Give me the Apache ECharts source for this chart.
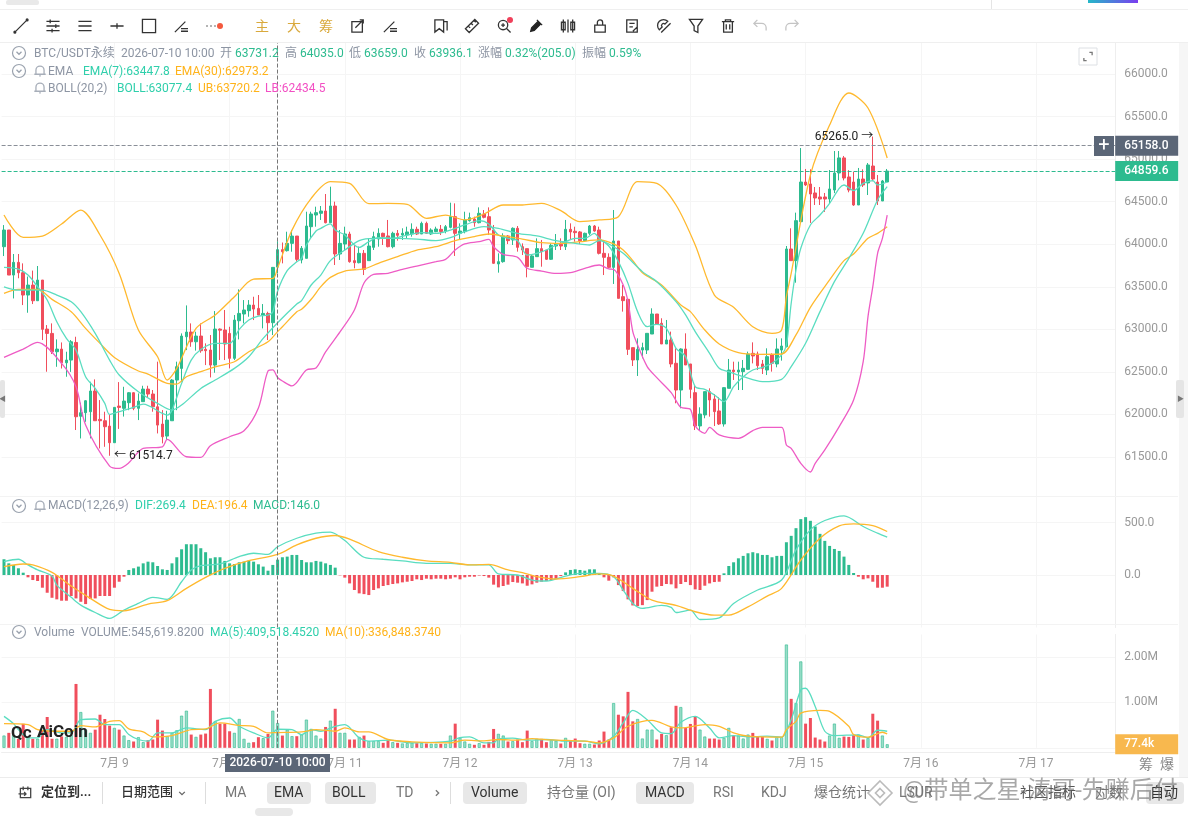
<!DOCTYPE html>
<html><head><meta charset="utf-8">
<script src="https://cdn.jsdelivr.net/npm/echarts@6/dist/echarts.min.js"></script>
<style>html,body{margin:0;padding:0;background:#fff}#c{width:1188px;height:816px}</style></head>
<body><div id="c"></div>
<script>
const dayLabels=['7月 9','7月 10','7月 11','7月 12','7月 13','7月 14','7月 15','7月 16','7月 17'];
const dayIndex=[23,47,71,95,119,143,167,191,215];
const slotCount=232;
const opens=[63971,64167,63638,63787,63665,63403,63520,63336,63579,63003,62952,62737,62768,62607,62639,62846,61980,62020,62032,62275,61942,61926,61863,61668,62098,62072,62138,62255,62072,62150,62298,62240,62090,61887,61746,61926,62404,62541,62913,62968,62854,62921,62765,62757,62580,63003,62992,62952,62659,63101,63180,63219,63285,63246,63168,63187,63078,63731.2,63936,63924,64010,64096,63815,63834,64206,64343,64363,64390,64253,64449,63885,64002,64120,63807,63783,63893,63807,63963,64061,64128,64097,63971,64128,64108,64108,64120,64175,64120,64245,64120,64148,64175,64155,64198,64324,64128,64148,64277,64296,64253,64355,64324,64167,63768,63795,64097,64050,64187,63971,63948,63729,63854,63948,63932,63823,63979,63999,63971,64175,64152,64144,64042,64128,64214,64167,63893,63846,63728,64038,63384,63353,62785,62640,62757,62757,62945,63180,63071,62828,62875,62601,62287,62769,62593,62256,61865,61994,62268,62182,62041,61888,62307,62522,62499,62503,62530,62718,62710,62593,62522,62699,62593,62757,62796,63944,63807,64265,64731,64708,64602,64555,64555,64531,64637,64837,65014,64790,64731,64461,64766,64720,64919,64731,64508,64731];
const closes=[64167,63638,63787,63665,63403,63520,63336,63579,63000,62952,62737,62768,62607,62639,62854,61973,62020,62161,62275,61926,61926,61856,61668,62083,62083,62157,62255,62072,62157,62298,62240,62090,61875,61738,61934,62404,62561,62921,62968,62854,62921,62749,62749,62580,63003,62990,62827,62659,63109,63187,63227,63285,63238,63168,63187,63078,63728,63936.1,63912,64010,64096,63822,63952,64214,64355,64371,64390,64253,64449,63885,64010,64120,63795,63783,63893,63705,63979,64089,64128,64089,63971,64128,64104,64128,64144,64175,64120,64245,64128,64167,64179,64148,64206,64324,64128,64155,64285,64312,64253,64363,64316,64167,63776,63795,64097,64042,64187,63963,63932,63736,63862,63948,63912,63823,63987,64002,63979,64175,64144,64136,64042,64128,64214,64155,63893,63846,63728,64038,63364,63337,62765,62640,62765,62785,62953,63180,63063,62828,62875,62593,62287,62769,62581,62295,61865,62005,62268,62170,62033,61888,62315,62522,62503,62522,62542,62710,62687,62573,62542,62679,62601,62769,62804,63944,63807,64277,64731,64696,64590,64543,64531,64531,64649,64837,65014,64778,64637,64461,64766,64696,64931,64766,64508,64743,64859.6];
const lows=[63861,63638,63363,63600,63285,63195,63297,63336,62874,62502,62710,62560,62540,62443,62500,61817,61718,61914,61718,61926,61601,61620,61514.7,61668,61830,61975,62050,62050,61934,62150,62200,62032,61777,61660,61700,61926,62050,62385,62756,62795,62750,62725,62580,62435,62490,62640,62639,62541,62639,62882,63070,63148,63109,63168,63011,62874,62933,63659,63775,63914,63912,63795,63775,63834,64069,64206,64285,64245,64253,63756,63815,63932,63783,63717,63775,63638,63807,63932,63971,63991,63963,63952,64042,64050,64069,64089,64108,64120,64120,64108,64140,64108,64128,64187,63862,64061,64128,64265,64206,64245,64304,64108,63768,63666,63783,64002,63991,63913,63873,63611,63729,63854,63736,63815,63815,63932,63932,63932,64050,64030,64002,64030,64108,64148,63880,63638,63717,63533,63364,63208,62699,62569,62452,62660,62710,62945,63063,62828,62828,62554,62131,62072,62581,62190,61817,61817,61955,61974,61864,61876,61857,62307,62405,62287,62287,62522,62600,62522,62475,62463,62503,62554,62632,62788,63807,63548,64265,64684,64250,64461,64461,64380,64484,64600,64750,64750,64610,64450,64461,64672,64578,64740,64461,64508,64731];
const highs=[64225,64167,63885,63885,63775,63620,63690,63744,63579,63050,63070,62882,62846,62737,62874,62913,62138,62168,62384,62412,62169,62032,61993,62083,62380,62325,62262,62262,62247,62337,62337,62287,62620,62051,62043,62415,62620,62952,63281,63070,62972,63070,62835,62933,63215,63011,63227,63030,63168,63470,63344,63344,63383,63403,63297,63207,63728,64035,64020,64147,64165,64096,63979,64382,64382,64441,64449,64590,64676,64500,64167,64206,64147,63991,63971,63932,64069,64147,64187,64136,64285,64147,64167,64187,64206,64245,64206,64265,64265,64187,64206,64226,64226,64488,64480,64245,64382,64371,64324,64433,64402,64433,64226,63893,64128,64108,64198,64214,64010,63948,63873,64069,64050,63932,64010,64120,64069,64285,64245,64206,64155,64136,64226,64226,64206,64050,63893,64402,64038,63521,63353,62785,62894,62843,62953,63247,63180,63130,63110,62973,62777,62777,62953,62593,62346,62084,62268,62307,62240,62201,62319,62652,62620,62620,62640,62738,62847,62738,62640,62777,62718,62894,62894,63979,64187,64371,65130,64884,64880,64672,64672,64602,64872,65095,65095,65037,64870,64850,64896,64880,64954,65265,64813,64755,64884];
const emaFastAt=[0,3,5,7,9,11,13,15,17,19,21,22,24,27,29,33,34,35,37,39,41,44,47,49,51,53,55,56,57,59,61,62,63,65,66,68,69,71,73,74,76,78,81,84,87,90,93,96,99,101,103,105,107,109,111,113,115,117,119,121,123,124,126,128,130,132,134,136,138,140,142,144,146,148,150,152,154,156,158,160,162,163,164,165,166,168,170,172,174,175,177,179,181,182,184];
const emaFast=[63728,63708,63638,63501,63344,63089,62893,62756,62443,62306,62130,62000,62032,62083,62122,62012,61993,62051,62365,62639,62764,62835,62835,63000,63109,63156,63168,63207,63447.8,63689,63794,63834,63991,64155,64187,64238,64167,64108,63991,63963,64030,64077,64069,64108,64136,64128,64167,64226,64277,64238,64108,64069,64042,63873,63893,63932,63991,64030,64069,64069,64128,64069,63979,63795,63540,63208,63031,63059,63012,62777,62679,62326,62295,62229,62150,62326,62444,62522,62554,62601,62699,62816,63306,63697,63952,64226,64343,64480,64657,64696,64629,64715,64747,64696,64731];
const emaSlowAt=[0,3,7,10,14,17,20,23,28,30,34,36,38,41,44,48,51,55,57,58,61,62,64,66,68,71,75,78,82,86,90,94,98,101,104,108,112,116,120,124,127,129,131,133,137,141,143,146,149,153,157,162,165,168,172,175,177,180,182,184];
const emaSlow=[63422,63469,63469,63352,63207,63011,62835,62670,62510,62474,62365,62357,62443,62502,62560,62619,62737,62854,62973.2,63030,63207,63235,63353,63501,63611,63685,63709,63776,63854,63932,63971,64042,64089,64120,64097,64061,64018,64010,64030,64050,64003,63932,63807,63666,63521,63286,63208,62992,62828,62726,62706,62710,62934,63259,63580,63807,63885,64069,64128,64206];
const bollMidAt=[0,3,8,11,14,16,19,22,24,28,32,35,37,41,44,48,51,54,57,61,62,64,66,68,71,74,77,82,86,90,93,96,100,103,107,111,115,119,122,124,126,129,133,136,140,142,144,147,149,151,154,158,162,164,167,170,173,176,179,182,184];
const bollMid=[63500,63461,63461,63403,63324,63207,62952,62639,62463,62267,62130,62051,62110,62306,62404,62541,62678,62893,63077.4,63297,63337,63521,63638,63807,63932,64042,64069,64069,64061,64042,64077,64148,64206,64187,64128,64097,64042,64010,63991,64042,64003,63893,63678,63560,63325,63169,62973,62718,62542,62503,62444,62385,62413,62562,62836,63208,63560,63834,64128,64520,64676];
const bollUpAt=[0,4,8,12,16,20,24,28,32,34,36,40,44,48,52,56,57,60,64,68,72,76,80,84,88,92,96,100,104,108,112,116,120,124,128,132,136,140,144,148,152,156,160,162,163,164,168,172,176,180,184];
const bollUp=[64343,64080,64096,64237,64401,64108,63657,62991,62678,62404,62541,63011,63168,63383,63591,63598,63720.2,64166,64539,64735,64715,64476,64480,64469,64304,64343,64285,64355,64461,64461,64480,64394,64265,64285,64324,64735,64715,64461,63991,63403,63259,63031,62953,62992,63384,63658,64813,65400,65777,65600,65013];
const bollLowAt=[0,4,7,12,15,17,22,24,26,29,33,34,38,41,43,47,50,53,55,56,57,58,60,63,65,67,70,73,75,77,80,83,86,90,92,94,96,99,101,102,104,107,109,112,115,118,121,124,126,127,129,130,131,132,134,136,139,141,143,144,146,147,149,153,156,158,162,163,164,166,168,169,171,174,177,179,180,181,182,183,184];
const bollLow=[62670,62768,62846,62600,62326,61875,61393,61366,61432,61601,61620,61707,61503,61495,61632,61738,61808,62076,62511,62523,62434.5,62393,62335,62523,62546,62734,62969,63227,63545,63646,63658,63705,63744,63795,63822,63932,64003,64030,64057,63971,63881,63846,63717,63685,63658,63666,63717,63756,63709,63705,63521,63325,62973,62816,62562,62432,62256,62084,62060,61865,61778,61849,61759,61720,61810,61849,61849,61641,61602,61426,61324,61426,61583,61857,62170,62620,63149,63501,63893,64069,64343];
const macdHist=[150,111,95,64,22,-22,-48,-57,-121,-169,-217,-232,-245,-245,-200,-223,-255,-277,-229,-223,-200,-200,-200,-121,-64,-16,48,64,80,111,127,121,86,54,48,111,169,245,293,293,293,255,217,159,169,169,134,111,105,121,127,137,127,102,80,41,96,146,169,175,191,191,143,121,121,134,127,111,96,70,-3,-25,-80,-143,-175,-182,-191,-143,-127,-105,-96,-86,-80,-70,-64,-57,-41,-48,-35,-41,-35,-35,-41,-35,-22,-41,-22,-16,-16,-5,-10,-25,-92,-118,-105,-92,-67,-73,-80,-102,-89,-73,-64,-57,-48,-38,-10,25,48,54,48,41,54,54,19,-22,-54,-22,-96,-153,-232,-290,-296,-287,-239,-159,-111,-105,-86,-89,-127,-86,-67,-96,-137,-143,-102,-80,-67,-64,16,86,121,159,182,207,217,207,191,191,169,182,182,312,373,446,532,551,516,462,392,325,277,248,229,175,96,19,-16,-41,-32,-64,-121,-121,-111];
const difAt=[0,3,5,7,10,11,14,16,19,22,25,28,31,34,37,39,41,45,49,52,55,57,61,65,68,71,75,79,83,88,93,97,101,103,107,110,113,117,120,124,127,129,131,133,137,139,140,143,145,149,152,157,162,165,168,171,175,179,182,184];
const dif=[127,150,96,48,-10,-96,-213,-287,-357,-414,-334,-271,-213,-232,-64,48,89,105,175,207,197,269.4,350,398,408,328,169,150,134,111,111,96,96,10,0,-48,-57,-10,16,16,-16,-143,-271,-318,-290,-309,-357,-334,-424,-408,-271,-143,-48,239,430,519,564,462,398,360];
const deaAt=[0,4,6,10,14,18,22,25,30,34,38,42,46,51,57,61,65,69,72,78,83,88,93,97,101,105,108,111,115,120,124,127,131,135,140,144,148,151,155,159,162,166,170,174,177,181,184];
const dea=[80,105,96,25,-105,-223,-328,-341,-277,-245,-127,-22,64,137,196.4,287,350,376,341,223,169,134,121,96,102,48,22,-16,-38,-16,10,-10,-127,-239,-290,-350,-382,-382,-303,-201,-127,143,350,468,487,471,414];
const volumes=[270,330,280,200,530,240,200,200,380,680,200,200,250,240,280,1409,788,400,330,400,730,635,489,438,401,270,168,139,234,124,168,183,621,380,256,329,387,708,818,292,241,292,314,1299,584,533,533,365,329,635,197,110,124,234,212,307,818,545.6,270,401,256,256,292,621,416,270,204,460,599,861,329,329,183,183,241,270,146,146,146,110,168,124,110,95,102,110,102,102,95,88,88,88,88,270,533,219,139,88,66,102,66,131,416,307,270,139,146,183,124,380,146,197,197,124,168,153,95,219,168,204,102,88,88,73,161,358,183,986,730,694,1234,584,635,204,401,401,183,307,277,453,927,898,438,526,694,401,248,204,204,183,219,438,270,270,204,292,329,256,248,197,161,234,234,2278,1080,986,1905,533,657,226,183,139,270,533,219,248,241,277,292,183,212,752,599,270,77.4];
const volFastAt=[0,2,3,5,7,9,12,14,16,19,21,24,26,28,30,32,35,38,42,44,47,49,52,55,57,60,62,64,66,69,71,74,76,80,85,93,95,97,100,102,103,106,109,113,117,121,124,127,129,131,134,137,139,141,144,147,149,152,155,159,162,164,166,167,169,171,173,178,180,182,184];
const volFast=[694,533,401,219,219,401,329,329,621,635,511,511,292,183,146,329,329,438,401,584,657,475,329,219,409.5,401,292,401,365,475,511,219,146,168,110,146,226,241,110,110,197,212,168,183,146,146,88,256,548,825,621,329,314,562,694,438,219,270,241,256,234,621,1278,1314,913,365,270,285,219,387,365];
const volSlowAt=[0,5,7,10,14,16,19,22,24,26,29,31,35,39,42,45,49,52,55,57,62,65,69,71,74,76,80,85,93,96,100,103,107,110,114,121,124,127,130,135,139,141,146,149,152,155,162,163,165,166,170,172,176,177,180,183,184];
const volSlow=[533,511,401,365,365,489,460,584,599,416,350,241,270,401,416,548,496,475,329,336.8,350,401,365,438,350,350,183,131,110,168,153,183,168,204,175,146,110,219,475,606,460,438,511,475,329,256,234,401,584,766,825,803,475,292,234,343,307];

const cats=[];for(let i=0;i<slotCount;i++){const k=dayIndex.indexOf(i);cats.push(k>=0?dayLabels[k]:'h'+i);}
const isDay=(i)=>dayIndex.includes(i);
const GREEN='#2DBB8F',RED='#F04E5C',TEAL='#5ADDC0',ORANGE='#FFB92E',PINK='#EE5CC5';
const FF='Roboto,"Noto Sans CJK SC",sans-serif';
const GL='#f5f5f5',NO='rgba(0,0,0,0)';
const pair=(a,b)=>a.map((x,i)=>[x,b[i]]);
const line=(name,at,vals,color,xi,yi)=>({name,type:'line',xAxisIndex:xi,yAxisIndex:yi,data:pair(at,vals),smooth:0.3,symbol:'none',lineStyle:{color,width:1.3},silent:true,z:4});
const vline={xAxis:cats[57],lineStyle:{color:'#777',type:'dashed',width:1},label:{show:false}};
const xAxisBase=(i,show)=>({type:'category',gridIndex:i,data:cats,boundaryGap:true,
  axisLine:{show:show,onZero:false,lineStyle:{color:'#eee'}},axisTick:{show:false},offset:show?4:0,
  axisLabel:{show:show,interval:(idx)=>isDay(idx),color:'#999',fontSize:12,fontFamily:FF,margin:6,hideOverlap:false},
  splitLine:{show:true,alignWithLabel:true,interval:(idx)=>isDay(idx),lineStyle:{color:GL,width:1}}});
const yLabel=(fn)=>({color:'#999',fontSize:12,fontFamily:FF,margin:9,padding:[2,0,0,0],formatter:fn});
const yAxisBase=(i,o)=>Object.assign({type:'value',gridIndex:i,position:'right',scale:false,
  axisLine:{show:true,lineStyle:{color:'#eee'}},axisTick:{show:false}},o);
const priceLabel=(t,bg)=>({show:true,position:'end',distance:0,formatter:t,backgroundColor:bg,color:'#fff',fontFamily:FF,fontSize:12,fontWeight:500,padding:[4,9,4,9],align:'left',verticalAlign:'middle',lineHeight:12,width:45});

/* graphics */
const g=[];
let shapeId=0;
const T=(text,x,y,fill,size,o={})=>g.push({type:'text',z:101,x,y,silent:true,style:{text,fill,font:(o.weight||'normal')+' '+(size||12)+'px '+FF,textVerticalAlign:'middle',textAlign:o.align||'left',opacity:o.opacity==null?1:o.opacity}});
const R=(x,y,w,h,fill,r,z)=>g.push({type:'rect',z:z||100,silent:true,shape:{x,y,width:w,height:h,r:r||0},style:{fill}});
const P=(d,cx,cy,w,h,stroke,fill,lw)=>{const name='ic'+(shapeId++);echarts.graphic.registerShape(name,echarts.graphic.extendPath(d,{}));
  const s=Math.max(w,h)/16;g.push({type:name,z:101,silent:true,x:cx-8*s,y:cy-8*s,scaleX:s,scaleY:s,style:{stroke:stroke||'#333',fill:fill||'none',lineWidth:(lw||1.3)/s}});};
const C=(cx,cy,r,stroke,fill)=>g.push({type:'circle',z:101,silent:true,shape:{cx,cy,r},style:{stroke:stroke||'none',fill:fill||'none',lineWidth:1.2}});
/* top bar */
R(0,0,1188,42,'#fff');
R(6,0,33,5,'#e9e9e9',2,101);
R(0,9,1188,1,'#efefef',0,101);R(0,42,1188,1,'#efefef',0,101);
g.push({type:'rect',z:101,silent:true,shape:{x:1088,y:0,width:50,height:3},style:{fill:new echarts.graphic.LinearGradient(0,0,1,0,[{offset:0,color:'#25b8c8'},{offset:1,color:'#7a3df0'}])}});
R(991,0,1,9,'#e5e5e5',0,101);
/* panel rules and right strip */
R(0,496,1178,1,'#f3f3f3',0,2);R(0,624,1178,1,'#f3f3f3',0,2);
R(1179,43,9,734,'#f6f6f6',0,2);
const icons=[
[21,'M1 15L15 1M0 15A1 1 0 1 0 2 15A1 1 0 1 0 0 15M14 1A1 1 0 1 0 16 1A1 1 0 1 0 14 1',14,14],
[53,'M1 3H15M1 8H15M1 13H15M5 1V5M11 6V10M7 11V15',15,14],
[85,'M1 3H15M1 8H15M1 13H15',15,11],
[117,'M1 8H15M8 5V11',15,6],
[149,'M1 1H15V15H1Z',15,15],
[181,'M1 15L13 3M8 11H16M8 14H16',14,13],
[358,'M1 3H13V15H1ZM5 10L14 1M10 1H14V5',14,14],
[390,'M1 15L13 3M8 11H16M8 14H16',14,13],
[441,'M1 1H11V15L6 11L1 15ZM11 3H15V13',14,14],
[472,'M1 11L11 1L15 5L5 15ZM4 8L6 10M7 5L9 7M10 2L12 4',15,15],
[504,'M12 7A5 5 0 1 1 2 7A5 5 0 1 1 12 7M11 11L15 15M7 5V9M5 7H9',15,15],
[568,'M3 1V15M8 1V15M13 1V15M1 4H5V12H1ZM11 4H15V12H11Z',15,15],
[600,'M2 7H14V15H2ZM5 7V4A3 3 0 0 1 11 4V7',14,14],
[632,'M2 1H14V15H2ZM5 5H11M5 9H9M9 14L14 9',14,14],
[664,'M3 12A6 6 0 0 1 12 3L9 6A2 2 0 0 0 6 9ZM5 15L15 5',15,15],
[696,'M1 1H15L10 8V15L6 13V8Z',15,15],
[728,'M1 3H15M5 3V1H11V3M3 3V15H13V3M6 6V12M10 6V12',14,14]];
icons.forEach(([x,d,w,h])=>P(d,x,26,w,h));
P('M5 1L1 5L5 9M1 5H10A5 5 0 0 1 15 10V13',760,26,14,14,'#c4c4c4');
P('M11 1L15 5L11 9M15 5H6A5 5 0 0 0 1 10V13',792,26,14,14,'#c4c4c4');
P('M2 14L3 10L10 3L13 6L6 13ZM9 1L15 7',536,26,14,14,'#222','#222');
[207,211,215].forEach(x=>C(x,26,0.8,null,'#555'));C(220,26,3,null,'#F4593E');C(510,20,3,null,'#F0405A');
T('主',255,27,'#D9A93C',14);T('大',287,27,'#D9A93C',14);T('筹',319,27,'#D9A93C',14);
/* legend */
const chev=(x,y)=>{C(x,y,6.5,'#9aa2ae');P('M4 6L8 10L12 6',x,y,10,10,'#9aa2ae');};
const bell=(x,y)=>P('M3 12V7A5 5 0 0 1 13 7V12M1 12H15M7 14H9',x,y,13,13,'#a7aeb9');
const GR='#8d95a3';
chev(19,53);chev(19,71);chev(19,506);chev(19,632);bell(40,71);bell(40,88);bell(40,506);
[['BTC/USDT永续',34,GR],['2026-07-10 10:00',121,GR],['开',220,GR],['63731.2',235,GREEN],['高',285,GR],['64035.0',300,GREEN],['低',349,GR],['63659.0',364,GREEN],['收',414,GR],['63936.1',429,GREEN],['涨幅',478,GR],['0.32%(205.0)',505,GREEN],['振幅',582,GR],['0.59%',609,GREEN]].forEach(a=>T(a[0],a[1],54,a[2],12));
[['EMA',48,GR],['EMA(7):63447.8',83,'#2FCFAB'],['EMA(30):62973.2',175,'#FFB31A']].forEach(a=>T(a[0],a[1],72,a[2],12));
[['BOLL(20,2)',48,GR],['BOLL:63077.4',117,'#2FCFAB'],['UB:63720.2',198,'#FFB31A'],['LB:62434.5',265,'#F24FC3']].forEach(a=>T(a[0],a[1],89,a[2],12));
[['MACD(12,26,9)',48,GR],['DIF:269.4',135,'#2FCFAB'],['DEA:196.4',192,'#FFB31A'],['MACD:146.0',253,GREEN]].forEach(a=>T(a[0],a[1],506,a[2],12));
[['Volume',34,GR],['VOLUME:545,619.8200',81,GR],['MA(5):409,518.4520',210,'#2FCFAB'],['MA(10):336,848.3740',325,'#FFB31A']].forEach(a=>T(a[0],a[1],633,a[2],12));
/* expand icon */
g.push({type:'rect',z:101,silent:true,shape:{x:1079,y:48,width:18,height:17},style:{fill:'#fff',stroke:'#dde0e4',lineWidth:1}});
P('M10 2H14V6M2 10V14H6',1088,56.5,11,11,'#777');
/* plus box */
R(1094,136,20,20,'#5B6677',0,101);T('+',1104,146,'#fff',20,{align:'center'});
/* side tabs */
R(0,380,5,38,'#e5e5e5',2,101);T('◀',-1,399,'#777',7);
R(1176,380,8,38,'#e5e5e5',2,101);T('▶',1177,399,'#777',7);
/* date box */
R(225,754,105,18,'#5B6677',0,101);T('2026-07-10 10:00',277.5,763,'#fff',12,{align:'center',weight:'500'});
T('筹',1139,765,'#888',14);T('爆',1160,765,'#888',14);
/* logo */
T('Qc',11,734,'#222',17,{weight:'bold'});T('AiCoin',37,733,'#222',17,{weight:'bold'});
/* bottom bar */
R(0,777,1188,1,'#ececec',0,101);
P('M2 3H13V13H2ZM5 1V5M10 1V5M0 9H8M6 7L8 9L6 11',26,793,15,15,'#444');
T('定位到...',41,793,'#333',13,{weight:'bold'});
R(102,782,1,22,'#ddd',0,101);T('日期范围',121,793,'#333',13,{weight:'500'});P('M3 6L8 11L13 6',182,793,9,9,'#666');
R(205,782,1,22,'#ddd',0,101);
T('MA',225,793,'#777',14);
R(267,782,44,22,'#E8E8E8',4,101);T('EMA',274,793,'#333',14);
R(325,782,51,22,'#E8E8E8',4,101);T('BOLL',332,793,'#333',14);
T('TD',396,793,'#777',14);P('M6 3L11 8L6 13',437,793,9,9,'#777');
R(450,782,1,22,'#ddd',0,101);
R(463,782,64,22,'#E8E8E8',4,101);T('Volume',471,793,'#333',14);
T('持仓量 (OI)',547,793,'#777',14);
R(636,782,58,22,'#E8E8E8',4,101);T('MACD',645,793,'#333',14);
T('RSI',713,793,'#777',14);T('KDJ',761,793,'#777',14);T('爆仓统计',814,793,'#777',14);
T('LSUR',899,793,'#777',14);T('社区指标',1020,793,'#555',14);T('对数',1095,793,'#777',14);
R(1146,782,38,22,'#E8E8E8',4,101);T('自动',1150,793,'#333',14);
R(255,808,38,8,'#E8E8E8',4,101);
P('M8 0L16 8L8 16L0 8ZM8 5L11 8L8 11L5 8Z',880,793,24,24,'rgba(150,150,150,.65)','none',1.6);
T('@带单之星-涛哥-先赚后付',903,792,'rgba(110,110,110,.6)',24);

const chart=echarts.init(document.getElementById('c'),null,{renderer:'canvas'});
chart.setOption({
 animation:false,backgroundColor:'#fff',textStyle:{fontFamily:FF},
 graphic:{elements:g},
 grid:[
  {left:1.6,width:1113.6,top:31.44,height:468.12},
  {left:1.6,width:1113.6,top:496.25,height:131.25},
  {left:1.6,width:1113.6,top:634.5,height:113.3}],
 xAxis:[xAxisBase(0,false),xAxisBase(1,false),xAxisBase(2,true)],
 yAxis:[
  yAxisBase(0,{min:61000,max:66500,interval:500,axisLabel:yLabel(v=>(v===61000||v===66500)?'':v.toFixed(1)),splitLine:{show:true,lineStyle:{color:[NO,GL,GL,GL,GL,GL,GL,GL,GL,GL,GL,NO]}}}),
  yAxisBase(1,{min:-500,max:750,interval:500,axisLabel:yLabel(v=>(v===0||v===500)?v.toFixed(1):''),splitLine:{show:true,lineStyle:{color:[NO,GL,GL,NO]}}}),
  yAxisBase(2,{min:0,max:2500,interval:1000,axisLabel:yLabel(v=>(v===1000||v===2000)?(v/1000).toFixed(2)+'M':''),splitLine:{show:true,lineStyle:{color:[GL,GL,GL,NO]}}})],
 series:[
  {name:'K',type:'candlestick',xAxisIndex:0,yAxisIndex:0,barWidth:3,z:3,
   data:opens.map((o,i)=>[o,closes[i],lows[i],highs[i]]),
   itemStyle:{color:GREEN,color0:RED,borderColor:GREEN,borderColor0:RED,borderWidth:1},
   markPoint:{symbol:'circle',symbolSize:1,itemStyle:{color:'transparent'},silent:true,
    data:[{coord:[cats[181],65265],label:{show:true,position:'left',distance:-1,formatter:'65265.0 →',color:'#222',fontSize:12,fontFamily:FF}},
          {coord:[cats[22],61514.7],label:{show:true,position:'right',distance:4,formatter:'← 61514.7',color:'#222',fontSize:12,fontFamily:FF}}]},
   markLine:{symbol:'none',silent:true,animation:false,
    data:[vline,
     {yAxis:65158,lineStyle:{color:'#8a8f98',type:'dashed',width:1},label:priceLabel('65158.0','#5B6677')},
     {yAxis:64859.6,lineStyle:{color:GREEN,type:'dashed',width:1},label:priceLabel('64859.6',GREEN)}]}},
  line('EMA7',emaFastAt,emaFast,TEAL,0,0),
  line('EMA30',emaSlowAt,emaSlow,ORANGE,0,0),
  line('BOLL',bollMidAt,bollMid,TEAL,0,0),
  line('UB',bollUpAt,bollUp,ORANGE,0,0),
  line('LB',bollLowAt,bollLow,PINK,0,0),
  {name:'MACD',type:'bar',xAxisIndex:1,yAxisIndex:1,barWidth:3,
   data:macdHist.map(v=>({value:v,itemStyle:{color:v>=0?GREEN:RED}})),
   markLine:{symbol:'none',silent:true,animation:false,data:[vline]}},
  line('DIF',difAt,dif,TEAL,1,1),
  line('DEA',deaAt,dea,ORANGE,1,1),
  {name:'Volume',type:'bar',xAxisIndex:2,yAxisIndex:2,barWidth:3,
   data:volumes.map((v,i)=>({value:v,itemStyle:closes[i]>=opens[i]?{color:'#9ADDC8',borderColor:GREEN,borderWidth:0.6}:{color:RED}})),
   markLine:{symbol:'none',silent:true,animation:false,data:[vline,
     {yAxis:77.4,lineStyle:{width:0,color:NO},label:priceLabel('77.4k','#F8B84E')}]}},
  line('VMA5',volFastAt,volFast,TEAL,2,2),
  line('VMA10',volSlowAt,volSlow,ORANGE,2,2)
 ]});
</script></body></html>
